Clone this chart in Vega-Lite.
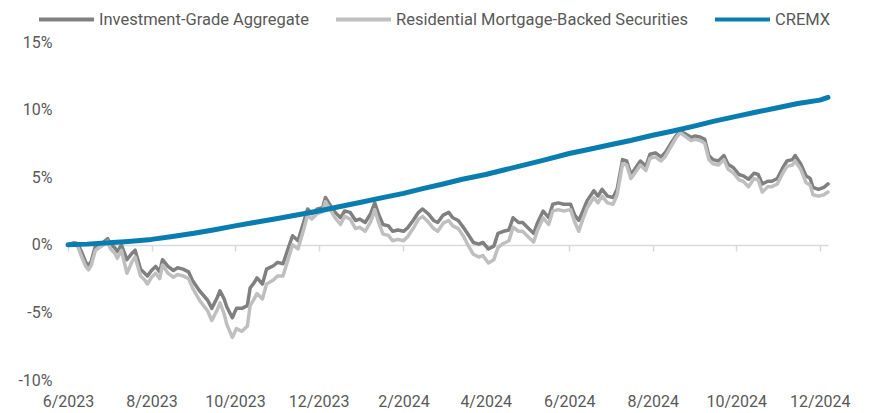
{
"$schema": "https://vega.github.io/schema/vega-lite/v6.json",
"width": 760, "height": 338,
"autosize": {"type": "none"},
"padding": {"left": 68, "top": 42, "right": 41, "bottom": 33},
"background": "white",
"config": {"view": {"stroke": null}, "font": "Roboto"},
"datasets": {
"g": [
{"d":"2023-06-01","ig":0.0,"rm":0.0},{"d":"2023-06-05","ig":0.15,"rm":0.05},{"d":"2023-06-08","ig":0.1,"rm":-0.1},{"d":"2023-06-11","ig":-0.55,"rm":-0.9},{"d":"2023-06-14","ig":-1.3,"rm":-1.6},{"d":"2023-06-16","ig":-1.55,"rm":-1.85},{"d":"2023-06-18","ig":-1.2,"rm":-1.5},{"d":"2023-06-21","ig":-0.1,"rm":-0.4},{"d":"2023-06-24","ig":0.1,"rm":-0.2},{"d":"2023-06-27","ig":0.2,"rm":0.0},{"d":"2023-06-30","ig":0.45,"rm":0.25},
{"d":"2023-07-02","ig":0.0,"rm":-0.3},{"d":"2023-07-05","ig":-0.2,"rm":-0.6},{"d":"2023-07-07","ig":-0.5,"rm":-1.0},{"d":"2023-07-10","ig":0.0,"rm":-0.4},{"d":"2023-07-14","ig":-1.1,"rm":-2.1},{"d":"2023-07-18","ig":-0.6,"rm":-1.2},{"d":"2023-07-20","ig":-0.4,"rm":-0.9},{"d":"2023-07-24","ig":-1.8,"rm":-2.3},{"d":"2023-07-27","ig":-2.1,"rm":-2.6},{"d":"2023-07-29","ig":-2.3,"rm":-2.9},
{"d":"2023-08-01","ig":-1.9,"rm":-2.4},{"d":"2023-08-04","ig":-1.6,"rm":-2.1},{"d":"2023-08-07","ig":-2.0,"rm":-2.5},{"d":"2023-08-09","ig":-1.1,"rm":-1.5},{"d":"2023-08-13","ig":-1.6,"rm":-2.1},{"d":"2023-08-17","ig":-1.9,"rm":-2.4},{"d":"2023-08-20","ig":-1.7,"rm":-2.2},{"d":"2023-08-24","ig":-1.8,"rm":-2.3},{"d":"2023-08-28","ig":-2.0,"rm":-2.5},{"d":"2023-08-31","ig":-2.65,"rm":-3.2},
{"d":"2023-09-05","ig":-3.4,"rm":-4.1},{"d":"2023-09-11","ig":-4.1,"rm":-4.9},{"d":"2023-09-14","ig":-4.7,"rm":-5.6},{"d":"2023-09-18","ig":-3.9,"rm":-4.8},{"d":"2023-09-20","ig":-3.4,"rm":-4.3},{"d":"2023-09-23","ig":-4.0,"rm":-5.1},{"d":"2023-09-25","ig":-4.6,"rm":-5.9},{"d":"2023-09-29","ig":-5.4,"rm":-6.85},
{"d":"2023-10-02","ig":-4.7,"rm":-6.2},{"d":"2023-10-06","ig":-4.7,"rm":-6.4},{"d":"2023-10-10","ig":-4.5,"rm":-6.0},{"d":"2023-10-12","ig":-3.2,"rm":-4.5},{"d":"2023-10-15","ig":-2.8,"rm":-4.0},{"d":"2023-10-17","ig":-2.45,"rm":-3.6},{"d":"2023-10-21","ig":-2.9,"rm":-4.0},{"d":"2023-10-24","ig":-1.8,"rm":-2.9},{"d":"2023-10-29","ig":-1.55,"rm":-2.6},
{"d":"2023-11-01","ig":-1.3,"rm":-2.3},{"d":"2023-11-05","ig":-1.4,"rm":-2.3},{"d":"2023-11-09","ig":-0.2,"rm":-1.0},{"d":"2023-11-12","ig":0.67,"rm":0.0},{"d":"2023-11-16","ig":0.3,"rm":-0.3},{"d":"2023-11-20","ig":1.65,"rm":1.1},{"d":"2023-11-23","ig":2.65,"rm":2.2},{"d":"2023-11-26","ig":2.3,"rm":1.9},{"d":"2023-11-30","ig":2.65,"rm":2.3},
{"d":"2023-12-04","ig":2.75,"rm":2.45},{"d":"2023-12-06","ig":3.5,"rm":3.2},{"d":"2023-12-09","ig":3.0,"rm":2.7},{"d":"2023-12-13","ig":2.4,"rm":2.0},{"d":"2023-12-17","ig":2.0,"rm":1.5},{"d":"2023-12-20","ig":2.5,"rm":2.1},{"d":"2023-12-24","ig":2.4,"rm":1.9},{"d":"2023-12-28","ig":1.8,"rm":1.2},{"d":"2023-12-31","ig":1.9,"rm":1.3},
{"d":"2024-01-04","ig":1.65,"rm":1.0},{"d":"2024-01-08","ig":2.3,"rm":1.7},{"d":"2024-01-11","ig":3.1,"rm":2.6},{"d":"2024-01-14","ig":2.2,"rm":1.6},{"d":"2024-01-17","ig":1.5,"rm":0.8},{"d":"2024-01-21","ig":1.4,"rm":0.7},{"d":"2024-01-24","ig":1.0,"rm":0.3},{"d":"2024-01-28","ig":1.1,"rm":0.4},
{"d":"2024-02-01","ig":1.0,"rm":0.3},{"d":"2024-02-04","ig":1.25,"rm":0.6},{"d":"2024-02-08","ig":1.8,"rm":1.2},{"d":"2024-02-12","ig":2.4,"rm":1.9},{"d":"2024-02-15","ig":2.65,"rm":2.1},{"d":"2024-02-19","ig":2.3,"rm":1.7},{"d":"2024-02-23","ig":1.8,"rm":1.2},{"d":"2024-02-26","ig":1.65,"rm":1.0},
{"d":"2024-03-01","ig":2.2,"rm":1.6},{"d":"2024-03-05","ig":2.4,"rm":1.8},{"d":"2024-03-08","ig":2.0,"rm":1.4},{"d":"2024-03-12","ig":1.8,"rm":1.2},{"d":"2024-03-16","ig":1.25,"rm":0.6},{"d":"2024-03-19","ig":0.8,"rm":0.0},{"d":"2024-03-23","ig":0.17,"rm":-0.7},{"d":"2024-03-27","ig":0.05,"rm":-0.9},{"d":"2024-03-30","ig":0.17,"rm":-0.8},
{"d":"2024-04-03","ig":-0.3,"rm":-1.35},{"d":"2024-04-07","ig":-0.1,"rm":-1.1},{"d":"2024-04-10","ig":0.85,"rm":-0.2},{"d":"2024-04-14","ig":1.0,"rm":0.1},{"d":"2024-04-18","ig":1.1,"rm":0.3},{"d":"2024-04-21","ig":2.0,"rm":1.3},{"d":"2024-04-25","ig":1.65,"rm":1.0},{"d":"2024-04-28","ig":1.65,"rm":1.0},
{"d":"2024-05-02","ig":1.25,"rm":0.6},{"d":"2024-05-06","ig":0.85,"rm":0.2},{"d":"2024-05-09","ig":1.65,"rm":1.1},{"d":"2024-05-13","ig":2.5,"rm":2.0},{"d":"2024-05-17","ig":2.0,"rm":1.5},{"d":"2024-05-20","ig":3.0,"rm":2.5},{"d":"2024-05-24","ig":3.1,"rm":2.6},{"d":"2024-05-28","ig":3.0,"rm":2.5},
{"d":"2024-06-02","ig":3.0,"rm":2.6},{"d":"2024-06-05","ig":2.2,"rm":1.7},{"d":"2024-06-08","ig":1.8,"rm":1.0},{"d":"2024-06-11","ig":2.5,"rm":1.9},{"d":"2024-06-14","ig":3.25,"rm":2.7},{"d":"2024-06-19","ig":4.0,"rm":3.5},{"d":"2024-06-22","ig":3.6,"rm":3.1},{"d":"2024-06-25","ig":4.1,"rm":3.6},{"d":"2024-06-29","ig":3.6,"rm":3.1},
{"d":"2024-07-03","ig":3.5,"rm":3.0},{"d":"2024-07-06","ig":4.1,"rm":3.7},{"d":"2024-07-10","ig":6.3,"rm":6.0},{"d":"2024-07-13","ig":6.2,"rm":5.9},{"d":"2024-07-16","ig":5.2,"rm":4.9},{"d":"2024-07-19","ig":5.6,"rm":5.3},{"d":"2024-07-23","ig":6.2,"rm":5.9},{"d":"2024-07-27","ig":5.8,"rm":5.5},{"d":"2024-07-30","ig":6.7,"rm":6.4},
{"d":"2024-08-03","ig":6.8,"rm":6.5},{"d":"2024-08-07","ig":6.5,"rm":6.2},{"d":"2024-08-10","ig":6.8,"rm":6.5},{"d":"2024-08-14","ig":7.45,"rm":7.2},{"d":"2024-08-18","ig":8.06,"rm":7.9},{"d":"2024-08-21","ig":8.4,"rm":8.3},{"d":"2024-08-25","ig":8.2,"rm":8.0},{"d":"2024-08-29","ig":7.95,"rm":7.7},
{"d":"2024-09-01","ig":8.05,"rm":7.8},{"d":"2024-09-05","ig":7.95,"rm":7.7},{"d":"2024-09-08","ig":7.8,"rm":7.5},{"d":"2024-09-11","ig":6.6,"rm":6.3},{"d":"2024-09-14","ig":6.3,"rm":6.0},{"d":"2024-09-18","ig":6.2,"rm":5.9},{"d":"2024-09-22","ig":6.6,"rm":6.3},{"d":"2024-09-25","ig":5.95,"rm":5.6},{"d":"2024-09-29","ig":5.7,"rm":5.3},
{"d":"2024-10-03","ig":5.2,"rm":4.8},{"d":"2024-10-06","ig":5.1,"rm":4.7},{"d":"2024-10-10","ig":4.85,"rm":4.3},{"d":"2024-10-14","ig":5.3,"rm":4.9},{"d":"2024-10-17","ig":5.2,"rm":4.8},{"d":"2024-10-20","ig":4.5,"rm":3.9},{"d":"2024-10-24","ig":4.7,"rm":4.3},{"d":"2024-10-27","ig":4.7,"rm":4.3},{"d":"2024-10-31","ig":4.9,"rm":4.5},
{"d":"2024-11-04","ig":5.7,"rm":5.3},{"d":"2024-11-07","ig":6.2,"rm":5.8},{"d":"2024-11-11","ig":6.3,"rm":5.9},{"d":"2024-11-13","ig":6.6,"rm":6.2},{"d":"2024-11-17","ig":6.0,"rm":5.6},{"d":"2024-11-21","ig":5.1,"rm":4.6},{"d":"2024-11-24","ig":4.9,"rm":4.4},{"d":"2024-11-26","ig":4.25,"rm":3.7},{"d":"2024-11-30","ig":4.1,"rm":3.6},
{"d":"2024-12-04","ig":4.25,"rm":3.7},{"d":"2024-12-07","ig":4.5,"rm":3.9}
],
"c": [
{"d":"2023-06-01","v":0.0},{"d":"2023-06-15","v":0.05},{"d":"2023-07-01","v":0.15},{"d":"2023-07-15","v":0.25},{"d":"2023-08-01","v":0.4},{"d":"2023-08-15","v":0.6},{"d":"2023-09-01","v":0.85},{"d":"2023-09-15","v":1.1},{"d":"2023-10-01","v":1.4},{"d":"2023-10-15","v":1.65},{"d":"2023-11-01","v":1.95},{"d":"2023-11-15","v":2.2},{"d":"2023-12-01","v":2.5},{"d":"2023-12-15","v":2.8},
{"d":"2024-01-01","v":3.15},{"d":"2024-01-15","v":3.45},{"d":"2024-02-01","v":3.8},{"d":"2024-02-15","v":4.15},{"d":"2024-03-01","v":4.5},{"d":"2024-03-15","v":4.85},{"d":"2024-04-01","v":5.2},{"d":"2024-04-15","v":5.55},{"d":"2024-05-01","v":5.95},{"d":"2024-05-15","v":6.3},{"d":"2024-06-01","v":6.75},{"d":"2024-06-15","v":7.05},{"d":"2024-07-01","v":7.4},{"d":"2024-07-15","v":7.7},{"d":"2024-08-01","v":8.1},{"d":"2024-08-15","v":8.4},{"d":"2024-09-01","v":8.8},{"d":"2024-09-15","v":9.15},{"d":"2024-10-01","v":9.5},{"d":"2024-10-15","v":9.8},{"d":"2024-11-01","v":10.15},{"d":"2024-11-15","v":10.45},{"d":"2024-12-01","v":10.7},{"d":"2024-12-07","v":10.9}
]
},
"resolve": {"axis": {"x": "independent"}},
"layer": [
{
"data": {"name": "g"},
"mark": {"type": "line", "strokeWidth": 3.5, "strokeJoin": "round", "strokeCap": "round"},
"encoding": {
"x": {"field": "d", "type": "temporal", "title": null,
 "scale": {"type": "utc", "nice": false, "domain": [{"year": 2023, "month": 6, "date": 1, "utc": true}, {"year": 2024, "month": 12, "date": 7, "utc": true}]},
 "axis": {"orient": "bottom", "values": [{"year":2023,"month":6,"date":1,"utc":true},{"year":2023,"month":8,"date":1,"utc":true},{"year":2023,"month":10,"date":1,"utc":true},{"year":2023,"month":12,"date":1,"utc":true},{"year":2024,"month":2,"date":1,"utc":true},{"year":2024,"month":4,"date":1,"utc":true},{"year":2024,"month":6,"date":1,"utc":true},{"year":2024,"month":8,"date":1,"utc":true},{"year":2024,"month":10,"date":1,"utc":true},{"year":2024,"month":12,"date":1,"utc":true}],
  "format": "%-m/%Y", "domain": false, "ticks": false, "tickSize": 0, "grid": false, "labelPadding": 13, "labelFontSize": 16, "labelColor": "#595959", "labelFont": "Roboto", "labelFlush": false, "labelOverlap": false, "title": null}},
"y": {"field": "ig", "type": "quantitative", "title": null, "scale": {"domain": [-10, 15], "nice": false},
 "axis": {"values": [-10, -5, 0, 5, 10, 15], "labelExpr": "datum.value + '%'", "domain": false, "ticks": false, "tickSize": 0, "grid": false, "labelPadding": 16, "labelFontSize": 16, "labelColor": "#595959", "labelFont": "Roboto", "title": null}},
"color": {"datum": "Investment-Grade Aggregate", "type": "nominal",
 "scale": {"domain": ["Investment-Grade Aggregate", "Residential Mortgage-Backed Securities", "CREMX"], "range": ["#808080", "#BFBFBF", "#0A7DB0"]},
 "legend": {"orient": "none", "legendX": -31, "legendY": -52, "direction": "horizontal", "title": null, "symbolType": "stroke", "symbolSize": 3025, "symbolStrokeWidth": 4, "labelFontSize": 16.5, "labelColor": "#595959", "labelFont": "Roboto", "labelOffset": 3, "columnPadding": 19, "labelLimit": 500, "padding": 0}}
}
},
{
"data": {"name": "g"},
"mark": {"type": "line", "strokeWidth": 3.5, "strokeJoin": "round", "strokeCap": "round"},
"encoding": {
"x": {"field": "d", "type": "temporal", "title": null,
 "scale": {"type": "utc", "nice": false, "domain": [{"year": 2023, "month": 6, "date": 1, "utc": true}, {"year": 2024, "month": 12, "date": 7, "utc": true}]},
 "axis": {"orient": "bottom", "offset": -135, "values": [{"year":2023,"month":6,"date":1,"utc":true},{"year":2023,"month":8,"date":1,"utc":true},{"year":2023,"month":10,"date":1,"utc":true},{"year":2023,"month":12,"date":1,"utc":true},{"year":2024,"month":2,"date":1,"utc":true},{"year":2024,"month":4,"date":1,"utc":true},{"year":2024,"month":6,"date":1,"utc":true},{"year":2024,"month":8,"date":1,"utc":true},{"year":2024,"month":10,"date":1,"utc":true},{"year":2024,"month":12,"date":1,"utc":true}],
  "labels": false, "domain": true, "domainColor": "#D9D9D9", "domainWidth": 1.5, "ticks": true, "tickColor": "#D9D9D9", "tickWidth": 1.5, "tickSize": 6, "grid": false, "title": null}},
"y": {"field": "rm", "type": "quantitative", "title": null, "scale": {"domain": [-10, 15], "nice": false},
 "axis": {"values": [-10, -5, 0, 5, 10, 15], "labelExpr": "datum.value + '%'", "domain": false, "ticks": false, "tickSize": 0, "grid": false, "labelPadding": 16, "labelFontSize": 16, "labelColor": "#595959", "labelFont": "Roboto", "title": null}},
"color": {"datum": "Residential Mortgage-Backed Securities", "type": "nominal"}
}
},
{
"data": {"name": "c"},
"mark": {"type": "line", "strokeWidth": 5, "strokeJoin": "round", "strokeCap": "round"},
"encoding": {
"x": {"field": "d", "type": "temporal", "title": null,
 "scale": {"type": "utc", "nice": false, "domain": [{"year": 2023, "month": 6, "date": 1, "utc": true}, {"year": 2024, "month": 12, "date": 7, "utc": true}]},
 "axis": null},
"y": {"field": "v", "type": "quantitative", "title": null, "scale": {"domain": [-10, 15], "nice": false},
 "axis": {"values": [-10, -5, 0, 5, 10, 15], "labelExpr": "datum.value + '%'", "domain": false, "ticks": false, "tickSize": 0, "grid": false, "labelPadding": 16, "labelFontSize": 16, "labelColor": "#595959", "labelFont": "Roboto", "title": null}},
"color": {"datum": "CREMX", "type": "nominal"}
}
}
]
}
